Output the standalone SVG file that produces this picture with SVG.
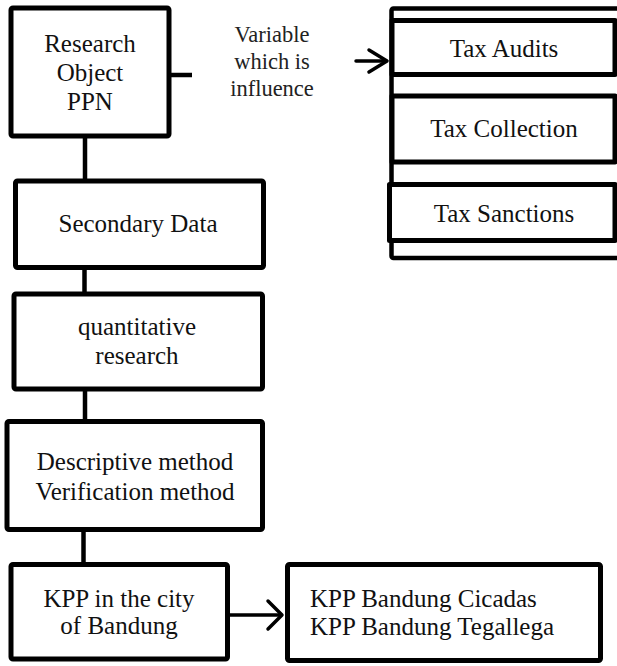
<svg xmlns="http://www.w3.org/2000/svg" width="617" height="666" viewBox="0 0 617 666">
<style>
.box{fill:#fff;stroke:#000;stroke-width:5;stroke-linejoin:round}
.frame{fill:#fff;stroke:#000;stroke-width:4.5}
text{font-family:'Liberation Serif',Tinos,'Times New Roman','DejaVu Serif',serif;fill:#111}
.t{font-size:25px;text-anchor:middle}
.tl{font-size:25px}
.v{font-size:22.5px;fill:#222;text-anchor:middle}
.c{stroke:#000;stroke-width:4.5;fill:none}
.a{stroke:#000;stroke-width:3.5;fill:none;stroke-linecap:round;stroke-linejoin:round}
</style>
<rect width="617" height="666" fill="#fff"/>
<g id="connectors">
<line class="c" x1="85" y1="136" x2="85" y2="181"/>
<line class="c" x1="84.5" y1="267" x2="84.5" y2="294"/>
<line class="c" x1="85" y1="389" x2="85" y2="421"/>
<line class="c" x1="83.5" y1="530" x2="83.5" y2="565"/>
<line class="c" x1="169" y1="75" x2="192" y2="75"/>
<line class="a" x1="356" y1="61" x2="386" y2="61"/>
<polyline class="a" points="369,50 387,61 369,72"/>
<line class="a" x1="230" y1="615" x2="281" y2="615"/>
<polyline class="a" points="268,601 282,615 268,629"/>
</g>
<g id="research-object">
<rect class="box" x="11" y="8" width="158" height="128" rx="2"/>
<text class="t" x="90" y="52" font-family="Liberation Serif, serif">Research</text>
<text class="t" x="90" y="81" font-family="Liberation Serif, serif">Object</text>
<text class="t" x="90" y="110" font-family="Liberation Serif, serif">PPN</text>
</g>
<g id="variable-label">
<text class="v" x="272" y="42">Variable</text>
<text class="v" x="272" y="69">which is</text>
<text class="v" x="272" y="96">influence</text>
</g>
<g id="variables-frame">
<rect class="frame" x="391.5" y="8.5" width="240" height="249.5" rx="2"/>
</g>
<g id="tax-audits">
<rect class="box" x="392" y="20.5" width="223" height="54"/>
<text class="t" x="504" y="57">Tax Audits</text>
</g>
<g id="tax-collection">
<rect class="box" x="392" y="96" width="223" height="66"/>
<text class="t" x="504" y="137">Tax Collection</text>
</g>
<g id="tax-sanctions">
<rect class="box" x="389.5" y="184.5" width="225.5" height="56"/>
<text class="t" x="504" y="222">Tax Sanctions</text>
</g>
<g id="secondary-data">
<rect class="box" x="15.5" y="181" width="248" height="86.5" rx="2"/>
<text class="t" x="138" y="232">Secondary Data</text>
</g>
<g id="quantitative-research">
<rect class="box" x="14" y="294" width="248.5" height="95" rx="2"/>
<text class="t" x="137" y="335">quantitative</text>
<text class="t" x="137" y="364">research</text>
</g>
<g id="methods">
<rect class="box" x="7" y="421.5" width="255.5" height="108" rx="2"/>
<text class="t" x="135" y="470">Descriptive method</text>
<text class="t" x="135" y="500">Verification method</text>
</g>
<g id="kpp-bandung">
<rect class="box" x="11" y="564.5" width="216.5" height="94.5" rx="2"/>
<text class="t" x="119" y="607">KPP in the city</text>
<text class="t" x="119" y="634">of Bandung</text>
</g>
<g id="kpp-list">
<rect class="box" x="287.5" y="564.5" width="313" height="96" rx="2"/>
<text class="tl" x="310" y="607">KPP Bandung Cicadas</text>
<text class="tl" x="310" y="635">KPP Bandung Tegallega</text>
</g>
</svg>
